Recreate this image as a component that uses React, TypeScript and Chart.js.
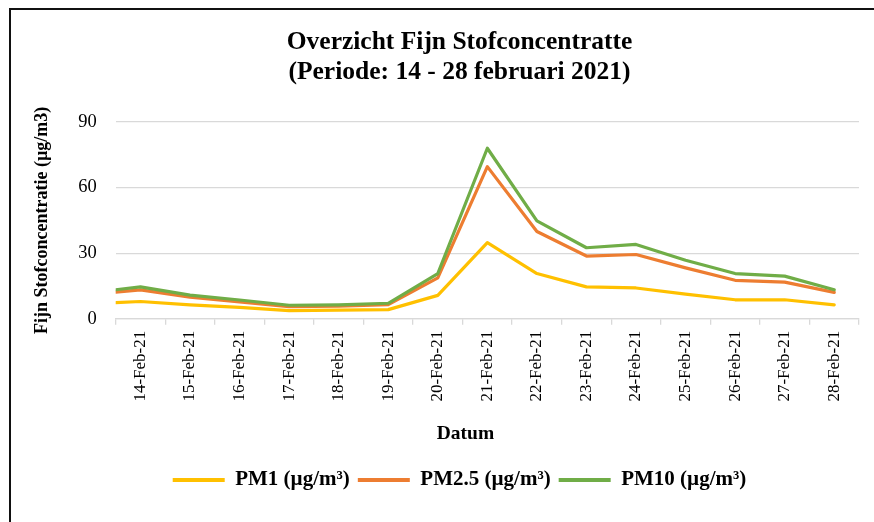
import React, { useEffect, useRef } from "react";
import { Chart, registerables } from "chart.js";

Chart.register(...registerables);

const categories = [
  "14-Feb-21", "15-Feb-21", "16-Feb-21", "17-Feb-21", "18-Feb-21",
  "19-Feb-21", "20-Feb-21", "21-Feb-21", "22-Feb-21", "23-Feb-21",
  "24-Feb-21", "25-Feb-21", "26-Feb-21", "27-Feb-21", "28-Feb-21",
];

// value where each line enters at the left edge of the plot
const pm1Start = 7.4;
const pm25Start = 12.2;
const pm10Start = 13.3;

const pm1Values = [7.9, 6.4, 5.2, 3.7, 4.0, 4.2, 10.7, 34.8, 20.7, 14.6, 14.1, 11.3, 8.7, 8.7, 6.4];
const pm25Values = [13.2, 9.9, 7.7, 5.5, 5.8, 6.5, 18.7, 69.6, 39.9, 28.7, 29.4, 23.3, 17.6, 16.8, 12.1];
const pm10Values = [14.6, 10.8, 8.6, 6.2, 6.4, 7.1, 20.7, 78.0, 44.8, 32.5, 34.0, 26.8, 20.7, 19.5, 13.3];

const yTicks = [0, 30, 60, 90];

const FONT = "'Liberation Serif', 'Times New Roman', serif";

function toPoints(start: number, values: number[]) {
  return [{ x: -0.5, y: start }, ...values.map((v, i) => ({ x: i, y: v }))];
}

export default function App() {
  const ref = useRef<HTMLCanvasElement | null>(null);

  useEffect(() => {
    if (!ref.current) return;
    const mk = (label: string, start: number, values: number[], color: string, order: number) => ({
      label,
      data: toPoints(start, values),
      borderColor: color,
      backgroundColor: color,
      borderWidth: 3.2,
      pointRadius: 0,
      tension: 0,
      borderJoinStyle: "round" as const,
      borderCapStyle: "round" as const,
      xAxisID: "xv",
      yAxisID: "y",
      order,
    });
    const chart = new Chart(ref.current, {
      type: "line",
      data: {
        labels: categories,
        datasets: [
          mk("PM1 (µg/m³)", pm1Start, pm1Values, "#FFC000", 3),
          mk("PM2.5 (µg/m³)", pm25Start, pm25Values, "#ED7D31", 2),
          mk("PM10 (µg/m³)", pm10Start, pm10Values, "#70AD47", 1),
        ],
      },
      options: {
        responsive: false,
        animation: false,
        devicePixelRatio: 1,
        layout: { padding: { left: 10, right: 0, top: 10, bottom: 21.5 } },
        plugins: {
          tooltip: { enabled: false },
          title: {
            display: true,
            text: ["Overzicht Fijn Stofconcentratte", "(Periode: 14 - 28 februari 2021)"],
            color: "#000",
            font: { family: FONT, size: 25.5, weight: "bold", lineHeight: "30px" },
            padding: { top: 17, bottom: 35 },
          },
          legend: {
            position: "bottom",
            labels: {
              color: "#000",
              font: { family: FONT, size: 21, weight: "bold" },
              boxWidth: 52,
              boxHeight: 4,
              padding: 8,
              sort: (a: any, b: any) => a.datasetIndex - b.datasetIndex,
              generateLabels: (c: any) =>
                Chart.defaults.plugins.legend.labels.generateLabels(c).map((it: any) => ({
                  ...it,
                  fillStyle: it.strokeStyle,
                  lineWidth: 0,
                })),
            },
          },
        },
        scales: {
          x: {
            type: "category",
            position: "bottom",
            offset: true,
            grid: {
              display: true,
              offset: true,
              drawOnChartArea: false,
              drawTicks: true,
              tickLength: 6,
              color: "#d9d9d9",
              lineWidth: 1.3,
            },
            border: { display: true, color: "#d9d9d9", width: 1.3 },
            ticks: {
              color: "#000",
              font: { family: FONT, size: 17 },
              minRotation: 90,
              maxRotation: 90,
              autoSkip: false,
              padding: 6,
            },
            title: {
              display: true,
              text: "Datum         ",
              color: "#000",
              font: { family: FONT, size: 19.5, weight: "bold" },
              padding: { top: 0, bottom: 16 },
            },
            afterFit: (s: any) => {
              s.height = 142.7;
            },
          },
          xv: {
            type: "linear",
            display: false,
            min: -0.5,
            max: 14.5,
          },
          y: {
            type: "linear",
            position: "left",
            min: 0,
            max: 90,
            afterBuildTicks: (s: any) => {
              s.ticks = yTicks.map((v) => ({ value: v }));
            },
            grid: { color: "#d9d9d9", lineWidth: 1.3, drawTicks: false },
            border: { display: false },
            ticks: {
              color: "#000",
              font: { family: FONT, size: 18.5 },
              padding: 19,
            },
            title: {
              display: true,
              text: "Fijn Stofconcentratie (µg/m3)",
              color: "#000",
              font: { family: FONT, size: 18, weight: "bold" },
              padding: { top: 22, bottom: 0 },
            },
            afterFit: (s: any) => {
              s.width = 105.7;
            },
          },
          yr: {
            type: "linear",
            position: "right",
            display: true,
            grid: { display: false },
            border: { display: false },
            ticks: { display: false },
            afterFit: (s: any) => {
              s.width = 50;
            },
          },
        },
      },
    } as any);
    return () => chart.destroy();
  }, []);

  return (
    <div style={{ position: "absolute", left: 0, top: 0, width: 874, height: 522, overflow: "hidden", background: "#fff" }}>
      <div
        style={{
          position: "absolute",
          left: 9,
          top: 8,
          width: 1000,
          height: 1000,
          borderLeft: "2px solid #111",
          borderTop: "2px solid #111",
        }}
      />
      <canvas ref={ref} width={909} height={522} style={{ position: "absolute", left: 0, top: 0, display: "block" }} />
    </div>
  );
}
